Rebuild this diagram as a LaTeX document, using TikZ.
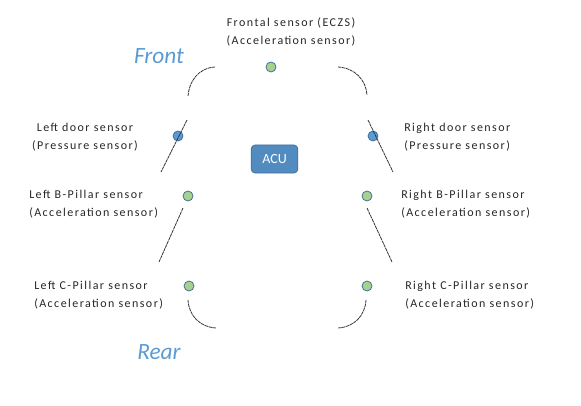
\documentclass[tikz,border=0pt]{standalone}
\usepackage{fontspec}
\setmainfont{Carlito}
\newfontfamily\labelfont{Carlito}[LetterSpace=12]
\definecolor{accblue}{HTML}{5B9BD5}
\definecolor{accedge}{HTML}{41719C}
\definecolor{pillgreen}{HTML}{A9D18E}
\definecolor{titleblue}{HTML}{5B9BD5}
\tikzset{
  accsensor/.style={circle, draw=accedge, fill=pillgreen, line width=0.6pt, minimum size=7.5pt, inner sep=0pt},
  doorsensor/.style={circle, draw=accedge, fill=accblue, line width=0.6pt, minimum size=7.5pt, inner sep=0pt},
  sensortext/.style={inner sep=0pt, text=black!85, font=\labelfont\fontsize{9}{14}\selectfont},
  bodyline/.style={black!80, line width=0.6pt, dash pattern=on 2.5pt off 0.5pt},
  sidetitle/.style={text=titleblue, font=\fontsize{17.5}{20}\selectfont\itshape}
}
\begin{document}
\begin{tikzpicture}[x=0.75pt,y=-0.75pt]
    \useasboundingbox (0,0) rectangle (581,406);

    % these are the titles
    \node[sidetitle] (front) at (159,56) {Front};
    \node[sidetitle] (rear) at (159,352) {Rear};

    % this is the control unit
    \node[draw=accedge, fill=accblue!90!black, rounded corners=3pt, line width=0.6pt,
          minimum width=35pt, minimum height=21pt, text=white,
          font=\fontsize{10.5}{12}\selectfont] (acu) at (274.5,159) {ACU};

    % these are the sensors
    \node[accsensor] (frontal) at (271,67) {};
    \node[doorsensor] (ldoor) at (178,136) {};
    \node[doorsensor] (rdoor) at (373,136) {};
    \node[accsensor] (lbpillar) at (188,196) {};
    \node[accsensor] (rbpillar) at (367,196) {};
    \node[accsensor] (lcpillar) at (189,286) {};
    \node[accsensor] (rcpillar) at (367,286) {};

    % these are the labels
    \node[sensortext, align=center] (frontaltext) at (291,32) {Frontal sensor (ECZS)\\(Acceleration sensor)};
    \node[sensortext, align=center] (ldoortext) at (85,137) {Left door sensor\\(Pressure sensor)};
    \node[sensortext, align=left, anchor=west] (rdoortext) at (404,137) {Right door sensor\\(Pressure sensor)};
    \node[sensortext, align=left, anchor=west] (lbtext) at (29,204) {Left B-Pillar sensor\\(Acceleration sensor)};
    \node[sensortext, align=left, anchor=west] (rbtext) at (401,204) {Right B-Pillar sensor\\(Acceleration sensor)};
    \node[sensortext, align=left, anchor=west] (lctext) at (34,295) {Left C-Pillar sensor\\(Acceleration sensor)};
    \node[sensortext, align=left, anchor=west] (rctext) at (405,295) {Right C-Pillar sensor\\(Acceleration sensor)};

    % this is the car body
    \draw[bodyline] (215,67) .. controls (198,68) and (189,82) .. (188,96);
    \draw[bodyline] (338,67) .. controls (355,68) and (366,80) .. (367,95);
    \draw[bodyline] (187,120) -- (161,172);
    \draw[bodyline] (368,120) -- (393,172);
    \draw[bodyline] (183,208) -- (159,262);
    \draw[bodyline] (367,208) -- (392,262);
    \draw[bodyline] (188,300) .. controls (189,316) and (200,327) .. (216,328);
    \draw[bodyline] (366,300) .. controls (365,316) and (354,327) .. (338,328);

\end{tikzpicture}
\end{document}
